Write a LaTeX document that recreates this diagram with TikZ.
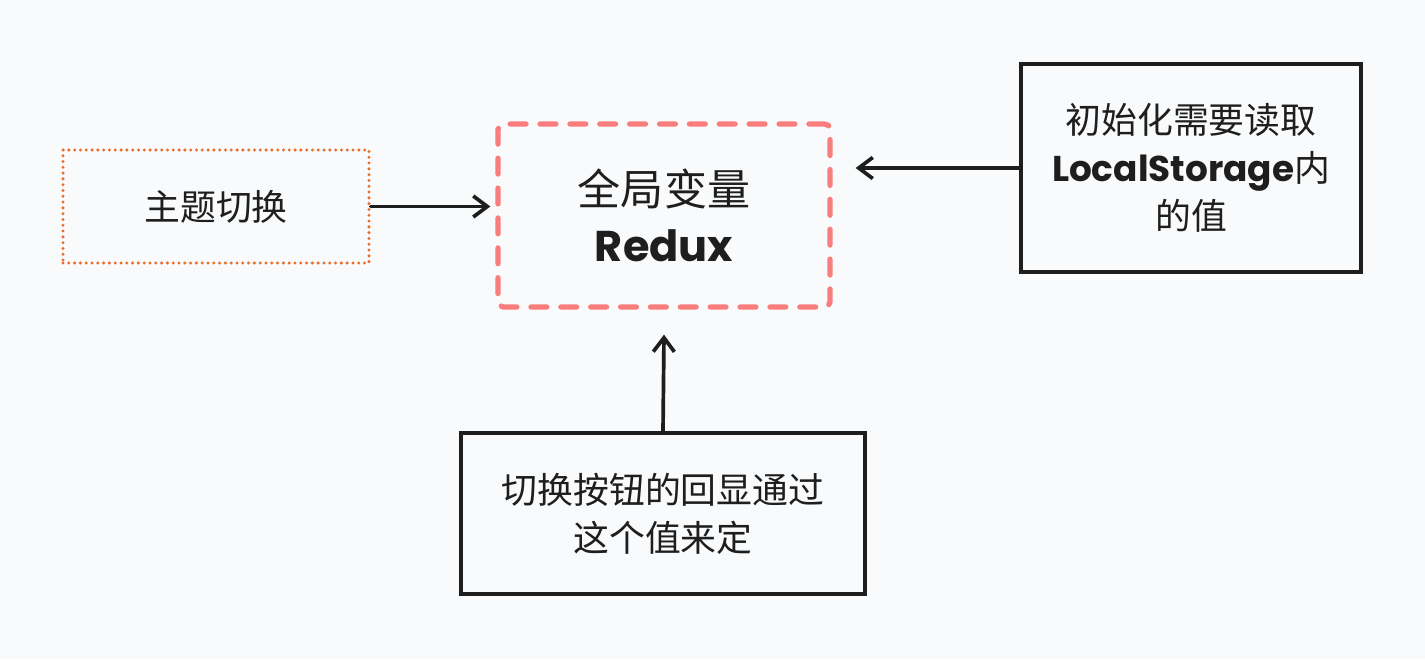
\documentclass[tikz,border=0pt]{standalone}
\usepackage{fontspec}
\setmainfont{Noto Sans CJK SC}
\newfontfamily\handfont{Poppins}
\usetikzlibrary{arrows.meta,positioning,calc}
\definecolor{bgpaper}{RGB}{249,250,251}
\definecolor{inkdark}{RGB}{30,30,30}
\definecolor{themeorange}{RGB}{232,110,44}
\definecolor{storered}{RGB}{250,125,125}

\tikzset{
  box/.style={draw=inkdark, line width=2pt, align=center, inner sep=0pt,
    font=\fontsize{20.4}{27.5}\selectfont, text=inkdark},
  themebox/.style={box, draw=themeorange, line width=1.9pt,
    dash pattern=on 0pt off 3.3pt, line cap=round},
  storebox/.style={box, draw=storered, line width=3pt, rounded corners=3pt,
    dash pattern=on 9pt off 8pt, line cap=round,
    font=\fontsize{24.5}{30}\selectfont},
  arr/.style={draw=inkdark, line width=2.1pt, line cap=round,
    -{Straight Barb[length=8pt,width=12pt,line width=2.1pt]}}
}

\begin{document}
\begin{tikzpicture}
  \useasboundingbox[fill=bgpaper] (0,0) rectangle (28.5,13.18);

  % boxes
  \node[themebox, minimum width=6.12cm, minimum height=2.26cm] (theme) at (4.32,9.05) {主题切换};
  \node[storebox, minimum width=6.64cm, minimum height=3.66cm] (store) at (13.28,8.87)
    {全局变量\\[2pt]{\handfont\bfseries Redux}};
  \node[box, minimum width=6.8cm, minimum height=4.16cm] (init) at (23.82,9.82)
    {初始化需要读取\\{\handfont\bfseries LocalStorage}内\\的值};
  \node[box, minimum width=8.08cm, minimum height=3.22cm] (button) at (13.26,2.91)
    {切换按钮的回显通过\\这个值来定};

  % arrows
  \draw[arr] (theme.east) -- ([xshift=-0.1cm]theme.east -| store.west);
  \draw[arr] (init.west) -- ([xshift=0.46cm]init.west -| store.east);
  \draw[arr] (button.north) -- ([yshift=-0.5cm]store.south);
\end{tikzpicture}
\end{document}
